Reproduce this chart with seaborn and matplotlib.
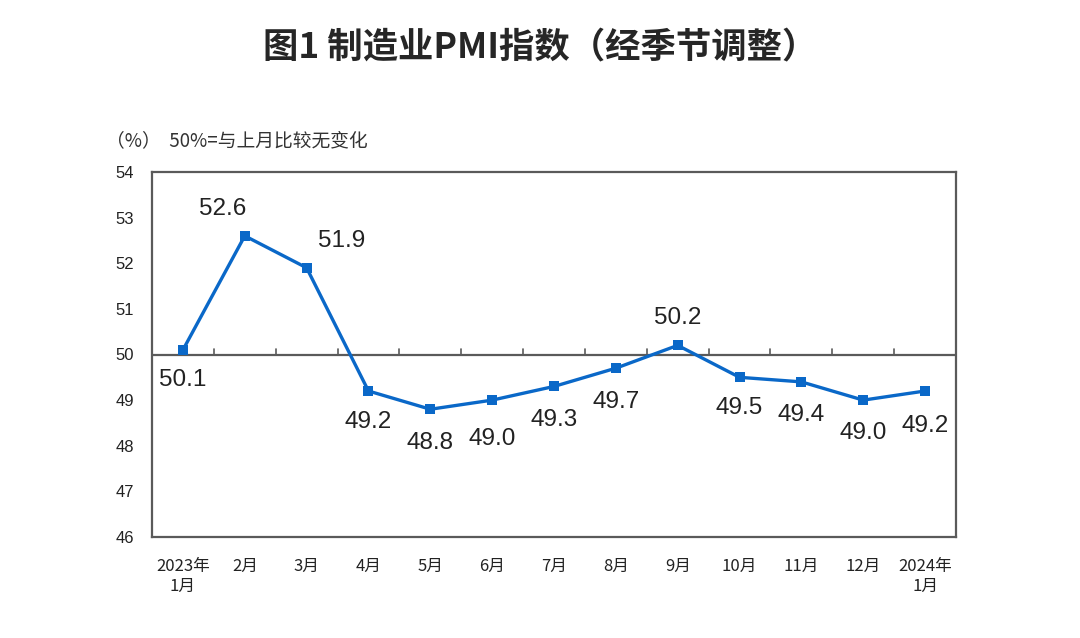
import matplotlib
matplotlib.use("Agg")
import matplotlib.pyplot as plt
import pandas as pd
import seaborn as sns

# chart data
months = ["2023年\n1月", "2月", "3月", "4月", "5月", "6月", "7月", "8月",
          "9月", "10月", "11月", "12月", "2024年\n1月"]
pmi = [50.1, 52.6, 51.9, 49.2, 48.8, 49.0, 49.3, 49.7, 50.2, 49.5, 49.4, 49.0, 49.2]
y_ticks = [46, 47, 48, 49, 50, 51, 52, 53, 54]

LINE_BLUE = "#0a68c8"
AXIS_GREY = "#5a5a5a"

sns.set_style("white")
plt.rcParams['font.family'] = ['Liberation Sans', 'Noto Sans CJK SC', 'DejaVu Sans']

df = pd.DataFrame({"pos": range(len(months)), "pmi": pmi})

fig = plt.figure(figsize=(10.8, 6.38), dpi=100)
ax = fig.add_axes([152 / 1080, 1 - 537 / 638, 804 / 1080, 365 / 638])

sns.lineplot(data=df, x="pos", y="pmi", ax=ax, color=LINE_BLUE, linewidth=2.4,
             marker="s", markersize=7, markeredgewidth=0, markerfacecolor=LINE_BLUE)

ax.set_xlim(-0.5, len(months) - 0.5)
ax.set_ylim(46, 54)
ax.set_yticks(y_ticks)
ax.set_yticklabels([str(v) for v in y_ticks], fontsize=12, color="#222222")
ax.tick_params(axis="y", direction="in", length=5, width=1, color=AXIS_GREY, pad=13)

# category labels along the bottom
ax.set_xticks(range(len(months)))
ax.set_xticklabels(months, fontsize=12, color="#222222", family=['Noto Sans CJK SC'],
                   linespacing=1.25)
ax.tick_params(axis="x", length=0, pad=15)
ax.set_xlabel("")
ax.set_ylabel("")

for side in ["left", "right", "top", "bottom"]:
    ax.spines[side].set_color(AXIS_GREY)
    ax.spines[side].set_linewidth(1.6)

# 50 reference line with separator ticks
ax.axhline(50, color=AXIS_GREY, linewidth=1.6, zorder=1)
for b in range(1, len(months)):
    ax.plot([b - 0.5, b - 0.5], [50, 50.12], color=AXIS_GREY, linewidth=1.2, zorder=1)

# value labels (offsets in points)
offsets = [(0, -22), (-16, 19), (25, 19), (0, -22), (0, -24), (0, -28), (0, -24),
           (0, -24), (0, 20), (0, -22), (0, -24), (0, -24), (0, -25)]
for i, (v, off) in enumerate(zip(pmi, offsets)):
    ax.annotate(f"{v:.1f}", (i, v), xytext=off, textcoords="offset points",
                ha="center", va="center", fontsize=17.5, color="#222222")

fig.text(0.5, 1 - 48 / 638, "图1 制造业PMI指数（经季节调整）", ha="center", va="center",
         fontsize=25.5, fontweight="bold", family=['Noto Sans CJK SC'])
fig.text(106 / 1080, 1 - 141 / 638, "（%）  50%=与上月比较无变化", ha="left", va="center",
         fontsize=13.5, color="#333333", family=['Noto Sans CJK SC'])

fig.savefig("out.png", dpi=100)
